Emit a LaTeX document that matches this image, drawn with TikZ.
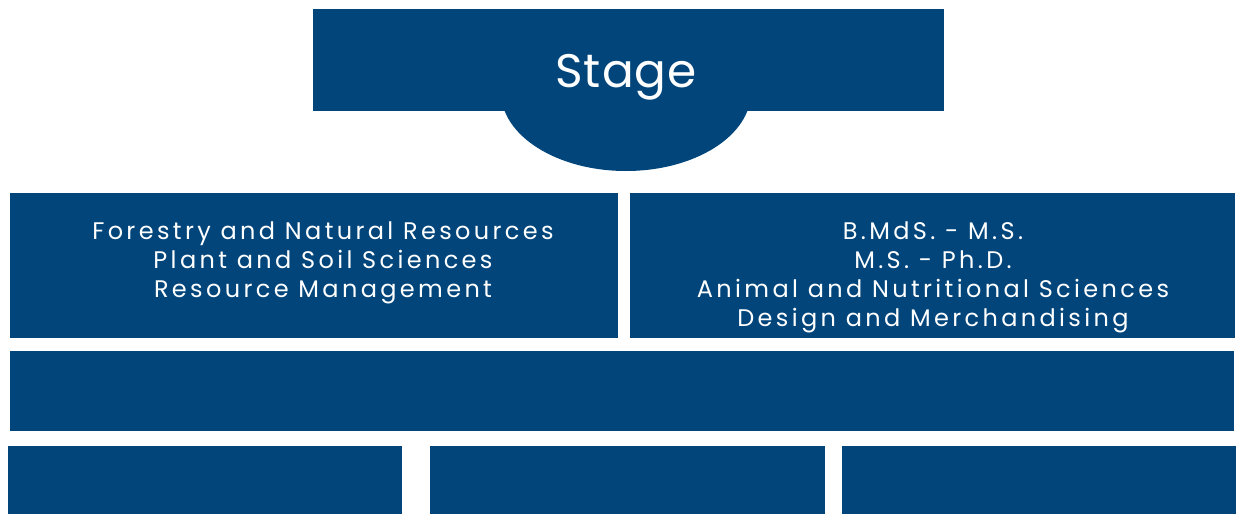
\documentclass[tikz,border=0pt]{standalone}
\usepackage{fontspec}
\setmainfont{Poppins}
\newfontfamily\trackfont[LetterSpace=14]{Poppins}
\newfontfamily\stagefont[LetterSpace=2]{Poppins}
\definecolor{navy}{HTML}{01457B}
\tikzset{
  panel/.style={fill=navy, draw=none, inner sep=0pt, outer sep=0pt, anchor=north west},
  label/.style={text=white, align=center, inner sep=0pt, font=\trackfont\fontsize{24}{29}\selectfont}
}
\begin{document}
\begin{tikzpicture}[x=1pt,y=-1pt]
\useasboundingbox (0,0) rectangle (1236,514);
% stage
\fill[navy] (626,92) ellipse [x radius=125, y radius=79];
\node[panel, minimum width=631pt, minimum height=102pt] (stage) at (313,9) {};
\node[text=white, inner sep=0pt, font=\stagefont\fontsize{47}{52}\selectfont] (stagetxt) at (626,77) {Stage};
% row 2
\node[panel, minimum width=608pt, minimum height=145pt] (left) at (10,193) {};
\node[panel, minimum width=605pt, minimum height=145pt] (right) at (630,193) {};
\node[label] (lefttxt) at (323,263) {Forestry and Natural Resources\\Plant and Soil Sciences\\Resource Management};
\node[label] (righttxt) at (933,277.5) {B.MdS. - M.S.\\M.S. - Ph.D.\\Animal and Nutritional Sciences\\Design and Merchandising};
% row 3
\node[panel, minimum width=1224pt, minimum height=80pt] (wide) at (10,351) {};
% row 4
\node[panel, minimum width=394pt, minimum height=68pt] (b1) at (8,446) {};
\node[panel, minimum width=395pt, minimum height=68pt] (b2) at (430,446) {};
\node[panel, minimum width=394pt, minimum height=68pt] (b3) at (842,446) {};
\end{tikzpicture}
\end{document}
